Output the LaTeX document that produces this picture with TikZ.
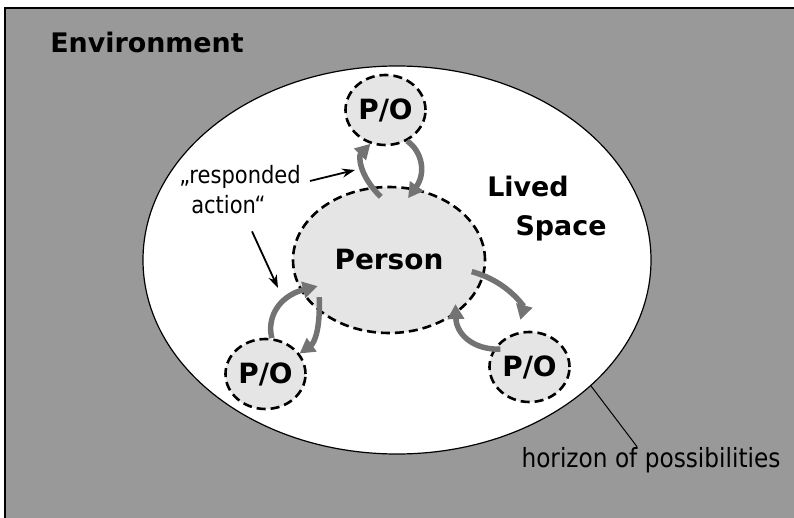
\documentclass[tikz,border=0pt]{standalone}
\usepackage{fontspec}
\setmainfont{DejaVu Sans}
\newfontfamily\thinfont{DejaVu Sans}[FakeStretch=0.88]
\usetikzlibrary{shapes.geometric}
\usetikzlibrary{arrows.meta}
\usetikzlibrary{calc}

\tikzset{
  heading/.style={font=\fontsize{27}{32}\selectfont\bfseries, inner sep=0pt},
  note/.style={font=\thinfont\fontsize{24}{30}\selectfont, inner sep=0pt},
  person/.style={ellipse, draw, fill=black!10, line width=2.6bp, dash pattern=on 9bp off 5bp,
    inner sep=0pt, font=\fontsize{28}{32}\selectfont\bfseries},
  po/.style={person, minimum width=80bp, minimum height=70bp},
  flow/.style={draw=black!55, line width=5.5bp, -{Triangle[length=15bp,width=16bp]}, bend left=45},
  pointer/.style={line width=1.8bp, -{Stealth[length=13bp,width=9bp]}},
}

\begin{document}
\begin{tikzpicture}[x=1bp, y=-1bp]
  \useasboundingbox (0,0) rectangle (794,518);

  % Environment (grey frame, only left and top edge visible)
  \fill[black!40] (5,8) rectangle (794,518);
  \draw[line width=1.5bp] (5,518) -- (5,8) -- (794,8);
  \node[heading, anchor=base] (env) at (147,53) {Environment};

  % Lived space with its horizon
  \node[ellipse, draw, fill=white, line width=1.2bp, minimum width=508bp, minimum height=388bp] (lived) at (397,260) {};
  \node[heading, anchor=base] (livedtxt) at (528,197) {Lived};
  \node[heading, anchor=base] (spacetxt) at (561,236) {Space};

  % Person and the persons/objects around
  \node[person, minimum width=192bp, minimum height=146bp] (pers) at (389,260) {Person};
  \node[po] (pot) at (385.5,110) {P/O};
  \node[po] (pol) at (265.5,374) {P/O};
  \node[po] (por) at (529.5,367) {P/O};

  % Grey action arrows
  \draw[flow, shorten <=-14bp] (pers.104) to (pot.246);
  \draw[flow, shorten >=-12bp] (pot.305) to (pers.70);
  \draw[flow, shorten >=-18bp] (pol.80) to (pers.199);
  \draw[flow, bend left=28, shorten <=-15bp] (pers.217) to (pol.31);
  \draw[flow, shorten <=-13bp, shorten >=13bp] (pers.351) to (por.110);
  \draw[flow, shorten <=-7bp, shorten >=-10bp] (por.154) to (pers.321);

  % "responded action" label
  \node[note, align=left] (resp) at (240,190) {„responded\\\hspace*{12bp}action“};
  \coordinate (respt) at (355,170);
  \coordinate (respl) at (278,288);
  \draw[pointer] ([shift={(9,-9)}]resp.east) -- (respt);
  \draw[pointer] ([shift={(12,17)}]resp.south) -- (respl);

  % horizon label
  \node[note, font=\thinfont\fontsize{26.5}{30}\selectfont, anchor=base] (horizon) at (651,467) {horizon of possibilities};
  \draw[line width=1bp] (lived.-33) -- ([xshift=-14]horizon.north);
\end{tikzpicture}
\end{document}
